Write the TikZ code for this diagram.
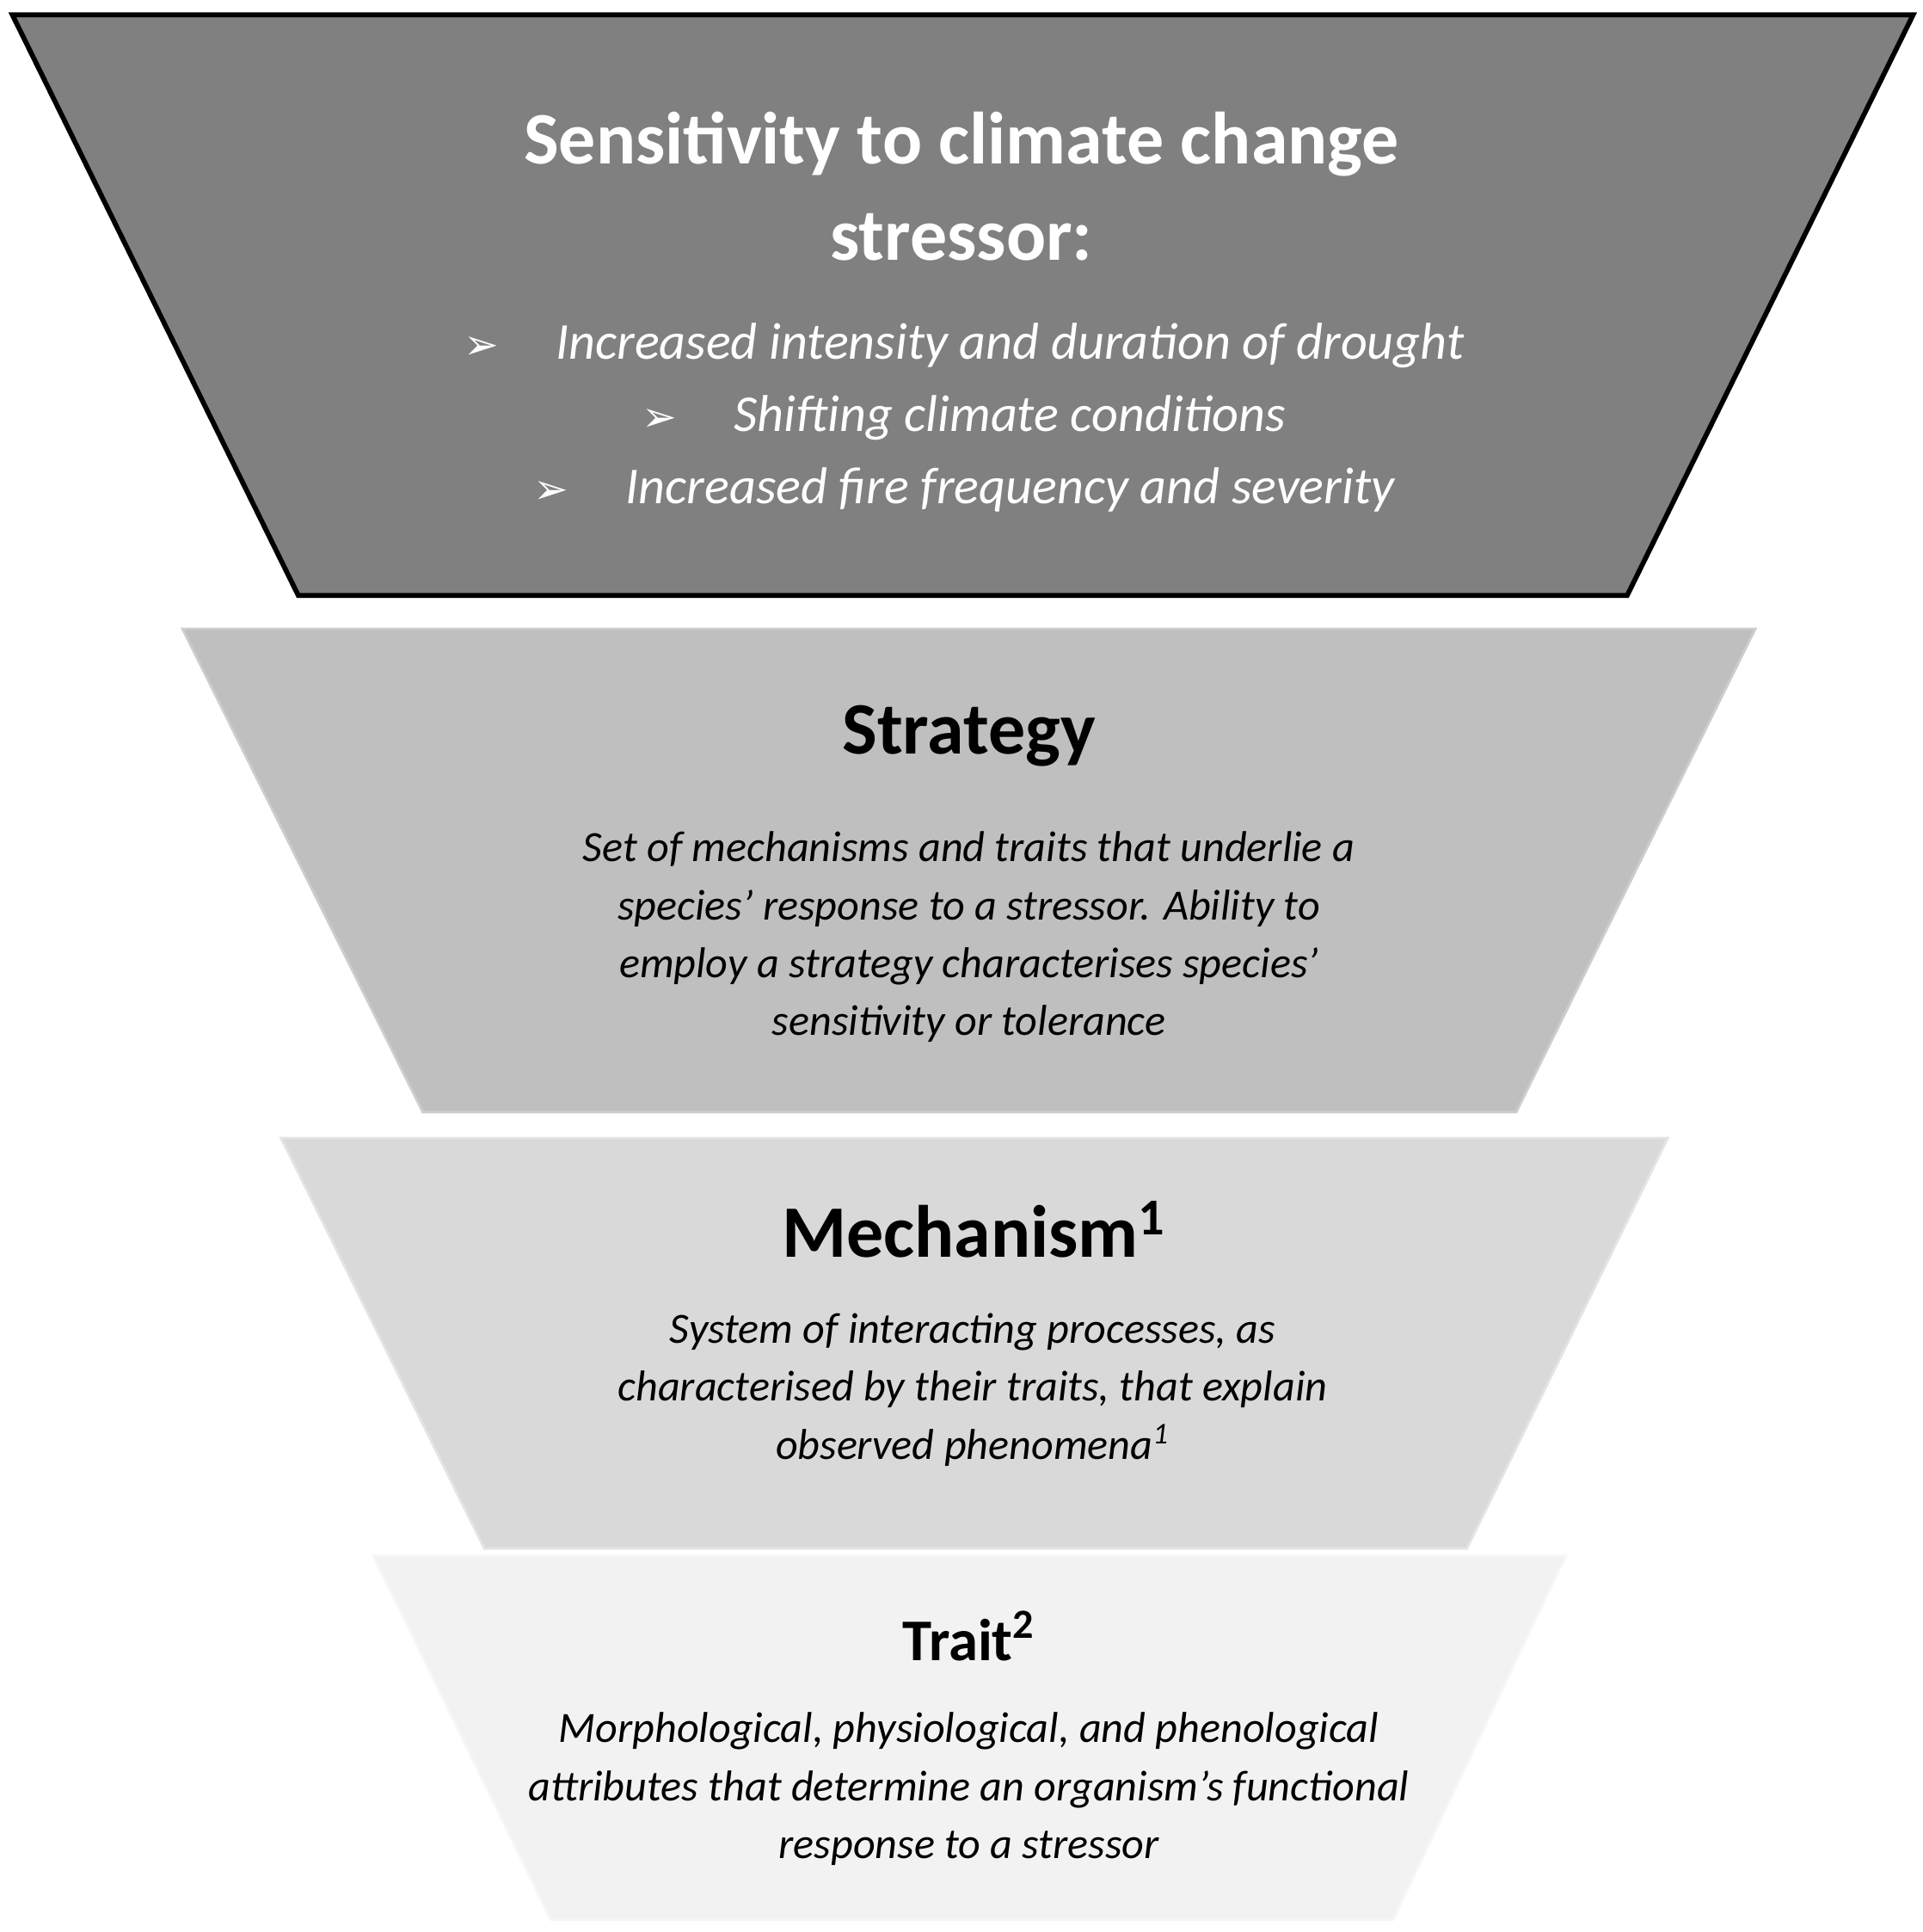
\documentclass[tikz,border=0pt]{standalone}
\usepackage{fontspec}
\setmainfont{Carlito}
\newfontfamily\dingfont{DejaVu Sans}
\begin{document}
\begin{tikzpicture}[x=0.5pt,y=-0.5pt,
  tt/.style={font=\bfseries\fontsize{30}{39}\selectfont,text=white,align=center},
  bl/.style={font=\itshape\fontsize{21}{25}\selectfont,text=white},
  hd/.style={font=\bfseries\fontsize{30}{36}\selectfont},
  bd/.style={font=\itshape\fontsize{17.5}{23.5}\selectfont,align=center}]
\useasboundingbox (0,0) rectangle (1560,1567);
\fill[white] (0,0) rectangle (1560,1567);
\draw[fill={rgb,255:red,128;green,128;blue,128},line width=2pt,line join=miter] (10,12)--(1552,12)--(1320,483)--(242,483)--cycle;
\draw[fill={rgb,255:red,191;green,191;blue,191},draw={rgb,255:red,205;green,205;blue,205},line width=1pt] (148,510)--(1424,510)--(1230,902)--(343,902)--cycle;
\draw[fill={rgb,255:red,217;green,217;blue,217},draw={rgb,255:red,228;green,228;blue,228},line width=1pt] (228,923)--(1353,923)--(1190,1256)--(393,1256)--cycle;
\draw[fill={rgb,255:red,242;green,242;blue,242},draw={rgb,255:red,246;green,246;blue,246},line width=1pt] (303,1262)--(1270,1262)--(1130,1557)--(447,1557)--cycle;
\node[tt] (title) at (780,151) {Sensitivity to climate change\\stressor:};
\node[bl] (b1) at (782,280) {{\dingfont\fontsize{17}{20}\selectfont ➢}\hspace{1.1em}Increased intensity and duration of drought};
\node[bl] (b2) at (782,339) {{\dingfont\fontsize{17}{20}\selectfont ➢}\hspace{1.1em}Shifting climate conditions};
\node[bl] (b3) at (782,397) {{\dingfont\fontsize{17}{20}\selectfont ➢}\hspace{1.1em}Increased fire frequency and severity};
\node[hd] (s) at (786,597) {Strategy};
\node[bd] (sb) at (786,760) {Set of mechanisms and traits that underlie a\\species’ response to a stressor. Ability to\\employ a strategy characterises species’\\sensitivity or tolerance};
\node[hd] (m) at (790,997) {Mechanism\textsuperscript{1}};
\node[bd] (mb) at (789,1127) {System of interacting processes, as\\characterised by their traits, that explain\\observed phenomena\textsuperscript{1}};
\node[hd,font=\bfseries\fontsize{24}{30}\selectfont] (t) at (786,1327) {Trait\textsuperscript{2}};
\node[bd] (tb) at (786,1451) {Morphological, physiological, and phenological\\attributes that determine an organism's functional\\response to a stressor};
\end{tikzpicture}
\end{document}
